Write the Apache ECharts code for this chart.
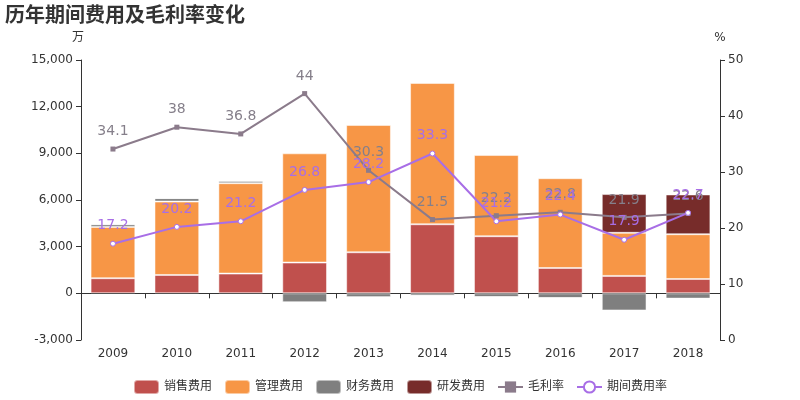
<!DOCTYPE html>
<html>
<head>
    <meta charset="utf-8">
    <title>历年期间费用及毛利率变化</title>
    <script src="https://cdnjs.cloudflare.com/ajax/libs/echarts/6.0.0/echarts.min.js"></script>
</head>
<body style="margin:0">
    <div id="main" style="width: 800px;height:400px;"></div>
    <script type="text/javascript">
        // 数据
        var years = ['2009', '2010', '2011', '2012', '2013', '2014', '2015', '2016', '2017', '2018'];
        var sales = [970, 1180, 1270, 1980, 2640, 4440, 3670, 1630, 1120, 920];      // 销售费用
        var manage = [3300, 4720, 5810, 7020, 8180, 9080, 5220, 5770, 2770, 2880];   // 管理费用
        var finance = [170, 220, 150, -580, -250, -150, -240, -300, -1100, -340];    // 财务费用
        var rd = [0, 0, 0, 0, 0, 0, 0, 0, 2490, 2555];                             // 研发费用
        var grossRate = [34.1, 38, 36.8, 44, 30.3, 21.5, 22.2, 22.8, 21.9, 22.6];    // 毛利率
        var periodRate = [17.2, 20.2, 21.2, 26.8, 28.2, 33.3, 21.2, 22.4, 17.9, 22.7]; // 期间费用率

        var myChart = echarts.init(document.getElementById('main'));
        var font = 'DejaVu Sans, Noto Sans CJK SC, sans-serif';
        var barBorder = { borderColor: 'rgba(255,255,255,0.5)', borderWidth: 1 };

        function bar(name, data, color) {
            return {
                name: name,
                type: 'bar',
                stack: 'cost',
                barWidth: '70%',
                xAxisIndex: 0,
                yAxisIndex: 0,
                itemStyle: Object.assign({ color: color }, barBorder),
                data: data
            };
        }

        var option = {
            animation: false,
            textStyle: { fontFamily: font },
            title: {
                text: '历年期间费用及毛利率变化',
                left: 0,
                top: 2,
                textStyle: { fontSize: 20, fontWeight: 'bold', color: '#333', fontFamily: font }
            },
            legend: {
                bottom: 0,
                itemWidth: 25,
                itemHeight: 14,
                itemGap: 12,
                textStyle: { fontSize: 12, color: '#333' },
                data: [
                    { name: '销售费用', icon: 'roundRect' },
                    { name: '管理费用', icon: 'roundRect' },
                    { name: '财务费用', icon: 'roundRect' },
                    { name: '研发费用', icon: 'roundRect' },
                    '毛利率',
                    '期间费用率'
                ]
            },
            grid: { left: 81, right: 80, top: 60, bottom: 60 },
            xAxis: [{
                type: 'category',
                data: years,
                position: 'bottom',
                axisLine: { show: false, onZero: false },
                axisTick: { show: false },
                axisLabel: { color: '#333', fontSize: 12, margin: 8 }
            }, {
                type: 'category',
                data: years,
                position: 'bottom',
                axisLine: { show: true, onZero: true, onZeroAxisIndex: 0, lineStyle: { color: '#333' } },
                axisTick: { show: true, length: 5, lineStyle: { color: '#333' } },
                axisLabel: { show: false }
            }],
            yAxis: [{
                type: 'value',
                name: '万',
                nameGap: 16,
                nameTextStyle: { color: '#333', fontSize: 12, padding: [0, 6, 0, 0] },
                min: -3000,
                max: 15000,
                interval: 3000,
                axisLine: { show: true, lineStyle: { color: '#333' } },
                axisTick: { show: true, length: 5 },
                splitLine: { show: false },
                axisLabel: {
                    color: '#333',
                    fontSize: 12,
                    formatter: function (v) { return v.toLocaleString('en-US'); }
                }
            }, {
                type: 'value',
                name: '%',
                nameGap: 16,
                nameTextStyle: { color: '#333', fontSize: 12 },
                min: 0,
                max: 50,
                interval: 10,
                axisLine: { show: true, lineStyle: { color: '#333' } },
                axisTick: { show: true, length: 5 },
                splitLine: { show: false },
                axisLabel: { color: '#333', fontSize: 12 }
            }],
            series: [
                bar('销售费用', sales, '#C0504D'),
                bar('管理费用', manage, '#F79646'),
                bar('财务费用', finance, '#7F7F7F'),
                bar('研发费用', rd, '#772C2A'),
                {
                    name: '毛利率',
                    type: 'line',
                    yAxisIndex: 1,
                    symbol: 'rect',
                    symbolSize: 5,
                    itemStyle: { color: '#8B7B8B' },
                    lineStyle: { color: '#8B7B8B', width: 2 },
                    label: { show: true, position: 'top', distance: 8, color: '#857F8A', fontSize: 14 },
                    data: grossRate
                },
                {
                    name: '期间费用率',
                    type: 'line',
                    yAxisIndex: 1,
                    symbol: 'circle',
                    symbolSize: 5,
                    itemStyle: { color: '#fff', borderColor: '#A86EE6', borderWidth: 1 },
                    lineStyle: { color: '#A86EE6', width: 2 },
                    label: { show: true, position: 'top', distance: 8, color: '#A86EE6', fontSize: 14 },
                    data: periodRate
                }
            ]
        };

        myChart.setOption(option);
    </script>
</body>
</html>
